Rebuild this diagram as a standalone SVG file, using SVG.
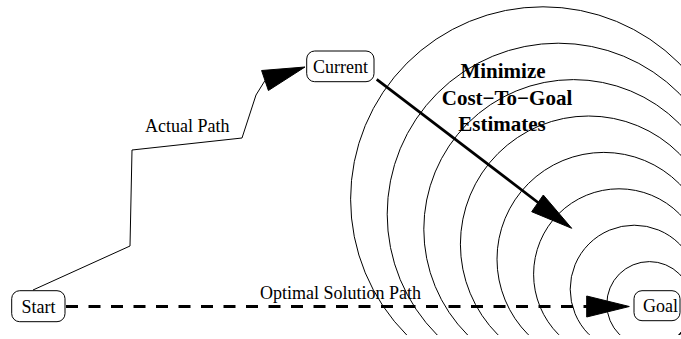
<svg xmlns="http://www.w3.org/2000/svg" width="681" height="339" viewBox="0 0 681 339">
<style>
.box{fill:#fff;stroke:#000;stroke-width:1}
.lbl{font-family:"Liberation Serif","Times New Roman",serif;font-size:18px;fill:#000}
.big{font-family:"Liberation Serif","Times New Roman",serif;font-size:21px;font-weight:bold;fill:#000;text-anchor:middle}
.ring{fill:none;stroke:#000;stroke-width:1}
.thin{fill:none;stroke:#000;stroke-width:1}
.head{fill:#000;stroke:#000;stroke-width:1}
</style>
<defs>
<clipPath id="clip"><rect x="0" y="0" width="681" height="335"/></clipPath>
</defs>
<rect width="681" height="339" fill="#fff"/>
<g id="rings" clip-path="url(#clip)">
<circle class="ring" cx="649.4" cy="304.2" r="42.6"/>
<circle class="ring" cx="634.2" cy="289.2" r="64"/>
<circle class="ring" cx="619" cy="274.2" r="85.4"/>
<circle class="ring" cx="603.8" cy="259.2" r="106.8"/>
<circle class="ring" cx="588.6" cy="244.2" r="128.2"/>
<circle class="ring" cx="573.4" cy="229.2" r="149.6"/>
<circle class="ring" cx="558.2" cy="214.2" r="171"/>
<circle class="ring" cx="543" cy="199.2" r="192.4"/>
</g>
<g id="connectors">
<polyline class="thin" points="33,290 130,246 132,150 242,138 256,95 265,80.5"/>
<polygon class="head" points="305,67 261.6,70.5 268.4,90.5"/>
<line x1="376.7" y1="79.3" x2="540" y2="204" stroke="#000" stroke-width="2.8"/>
<polygon class="head" points="571.7,228.3 531.7,211.7 543.3,195"/>
<line x1="66" y1="306.5" x2="590" y2="306.5" stroke="#000" stroke-width="3" stroke-dasharray="12 10.5"/>
<polygon class="head" points="629.3,306.5 586.7,296 586.7,317"/>
</g>
<g id="labels">
<text class="lbl" x="145" y="131.7">Actual Path</text>
<text class="lbl" x="260" y="299">Optimal Solution Path</text>
<text class="big" x="503" y="78.3">Minimize</text>
<text class="big" x="507" y="105">Cost−To−Goal</text>
<text class="big" x="502" y="131">Estimates</text>
</g>
<g id="start">
<rect class="box" x="11.7" y="290.7" width="53.3" height="31" rx="8"/>
<text class="lbl" x="38.5" y="312.6" text-anchor="middle">Start</text>
</g>
<g id="current">
<rect class="box" x="306.7" y="51" width="67.3" height="30.7" rx="8"/>
<text class="lbl" x="340.5" y="72.5" text-anchor="middle">Current</text>
</g>
<g id="goal">
<rect class="box" x="634" y="290.7" width="46" height="30" rx="8"/>
<text class="lbl" x="660.5" y="312" text-anchor="middle">Goal</text>
</g>
</svg>
